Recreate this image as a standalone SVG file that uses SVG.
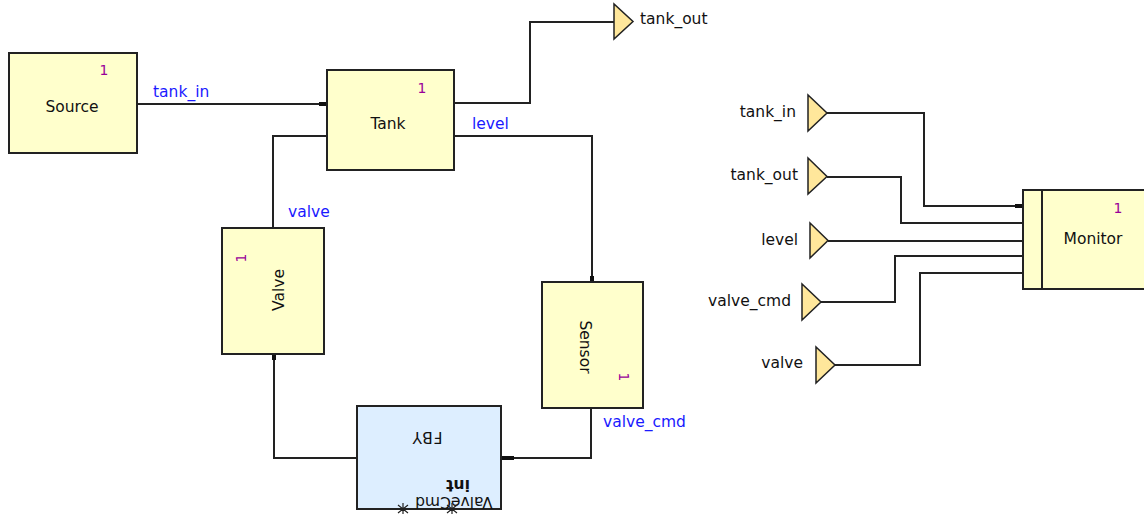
<svg xmlns="http://www.w3.org/2000/svg" width="1144" height="514" viewBox="0 0 1144 514">
<style>
.blk{fill:#ffffcc;stroke:#222;stroke-width:2}
.fby{fill:#ddeeff;stroke:#222;stroke-width:2}
.tri{fill:#ffe79b;stroke:#222;stroke-width:1.5;stroke-linejoin:miter}
.w{fill:none;stroke:#222;stroke-width:2}
.tick{fill:#111}
.t{font-family:"DejaVu Sans",Verdana,sans-serif;font-size:15.5px;fill:#111}
.b{font-family:"DejaVu Sans",Verdana,sans-serif;font-size:15.5px;fill:#1a1aff}
.n{font-family:"DejaVu Sans",Verdana,sans-serif;font-size:14px;fill:#990099}
</style>
<rect width="1144" height="514" fill="#ffffff"/>
<g id="connectors">
<path class="w" d="M137,104 H327"/>
<path class="w" d="M454,103 H530 V22 H614"/>
<path class="w" d="M454,136 H592 V282"/>
<path class="w" d="M327,136 H273 V228"/>
<path class="w" d="M357,458 H274 V354"/>
<path class="w" d="M591,408 V458 H501"/>
<path class="w" d="M827,113 H924 V206 H1023"/>
<path class="w" d="M827,177 H901 V223 H1023"/>
<path class="w" d="M828,241 H1023"/>
<path class="w" d="M821,302 H895 V256 H1023"/>
<path class="w" d="M835,365 H920 V273 H1023"/>
<rect class="tick" x="319" y="102" width="8" height="4"/>
<rect class="tick" x="590" y="276" width="4" height="6"/>
<rect class="tick" x="272" y="354" width="4" height="6"/>
<rect class="tick" x="501" y="456" width="13" height="4"/>
<rect class="tick" x="1015" y="204" width="8" height="4"/>
<text class="b" x="153" y="97">tank_in</text>
<text class="b" x="472" y="129">level</text>
<text class="b" x="288" y="217">valve</text>
<text class="b" x="603" y="427">valve_cmd</text>
</g>
<g id="Source">
<rect class="blk" x="9" y="53" width="128" height="100"/>
<text class="n" x="104" y="75" text-anchor="middle">1</text>
<text class="t" x="72" y="112" text-anchor="middle">Source</text>
</g>
<g id="Tank">
<rect class="blk" x="327" y="70" width="127" height="100"/>
<text class="n" x="422" y="93" text-anchor="middle">1</text>
<text class="t" x="388" y="129" text-anchor="middle">Tank</text>
</g>
<g id="Valve">
<rect class="blk" x="222" y="228" width="102" height="126"/>
<text class="n" x="246" y="258" text-anchor="middle" transform="rotate(-90 246 258)">1</text>
<text class="t" x="284" y="290" text-anchor="middle" transform="rotate(-90 284 290)">Valve</text>
</g>
<g id="Sensor">
<rect class="blk" x="542" y="282" width="101" height="126"/>
<text class="n" x="619" y="377" text-anchor="middle" transform="rotate(90 619 377)">1</text>
<text class="t" x="580" y="347" text-anchor="middle" transform="rotate(90 580 347)">Sensor</text>
</g>
<g id="FBY">
<rect class="fby" x="357" y="406" width="144" height="103"/>
<text class="t" x="427" y="432" text-anchor="middle" font-size="13" letter-spacing="1" transform="rotate(180 427 432)">FBY</text>
<text class="t" x="458" y="480" text-anchor="middle" font-size="11" font-weight="bold" transform="rotate(180 458 480)">int</text>
<text class="t" x="454" y="497" text-anchor="middle" font-size="13" transform="rotate(180 454 497)">ValveCmd</text>
<path d="M403,503 V514 M398,505 L408,513 M408,505 L398,513 M452,503 V514 M447,505 L457,513 M457,505 L447,513" fill="none" stroke="#222" stroke-width="1.2"/>
</g>
<g id="tank_out_top">
<polygon class="tri" points="614,4 614,39 633,21.5"/>
<text class="t" x="640" y="24">tank_out</text>
</g>
<g id="in_tank_in">
<polygon class="tri" points="808,95 808,131 827,113"/>
<text class="t" x="796" y="117" text-anchor="end">tank_in</text>
</g>
<g id="in_tank_out">
<polygon class="tri" points="808,158 808,194 827,176.5"/>
<text class="t" x="798" y="180" text-anchor="end">tank_out</text>
</g>
<g id="in_level">
<polygon class="tri" points="810,223 810,258 828,240.5"/>
<text class="t" x="798" y="245" text-anchor="end">level</text>
</g>
<g id="in_valve_cmd">
<polygon class="tri" points="802,284 802,320 821,302"/>
<text class="t" x="791" y="306" text-anchor="end">valve_cmd</text>
</g>
<g id="in_valve">
<polygon class="tri" points="816,347 816,383 835,365"/>
<text class="t" x="803" y="368" text-anchor="end">valve</text>
</g>
<g id="Monitor">
<rect class="blk" x="1023" y="190" width="130" height="99"/>
<line x1="1042" y1="190" x2="1042" y2="289" stroke="#222" stroke-width="2"/>
<text class="n" x="1118" y="213" text-anchor="middle">1</text>
<text class="t" x="1093" y="244" text-anchor="middle">Monitor</text>
</g>
</svg>
